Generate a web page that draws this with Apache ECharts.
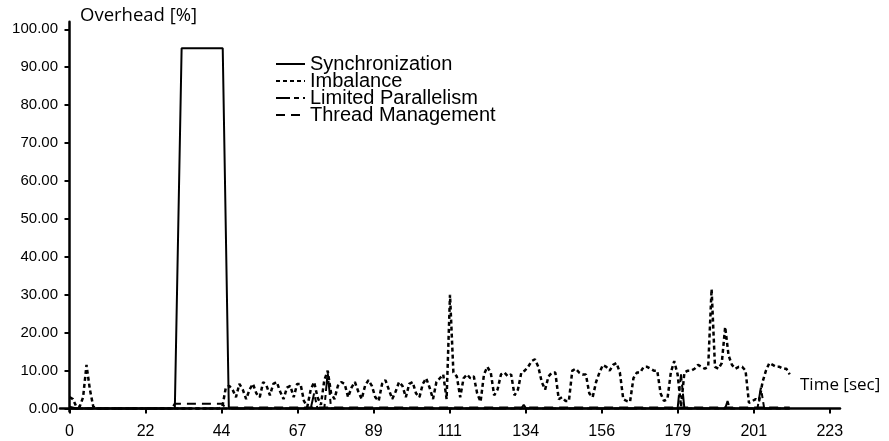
<!DOCTYPE html>
<html>
<head>
<meta charset="utf-8">
<script src="https://cdn.jsdelivr.net/npm/echarts@6/dist/echarts.min.js"></script>
<style>
  html, body { margin: 0; padding: 0; background: #fff; }
  #chart { width: 889px; height: 441px; }
</style>
</head>
<body>
<div id="chart"></div>
<script>
// x ticks sit every 22.38 s, labels are truncated
const xTicks = [0, 22.38, 44.76, 67.14, 89.52, 111.9, 134.28, 156.66, 179.04, 201.42, 223.8];
const yTicks = [0, 10, 20, 30, 40, 50, 60, 70, 80, 90, 100];

// Synchronization
const syncTime = [0, 31, 33, 45.1, 46.9, 212];
const syncValues = [0, 0, 95, 95, 0, 0];

// Imbalance, one sample per second from t = 0
const imbValues = [
  3, 2.5, 0.5, 0.5, 3, 11.5, 5, 0.5, 0,
  0, 0, 0, 0, 0, 0, 0, 0, 0, 0, 0, 0, 0, 0, 0, 0, 0, 0,
  0, 0, 0, 0, 0, 0, 0, 0, 0, 0, 0, 0, 0, 0, 0, 0, 0, 0,
  0.5,
  5.5, 6, 5, 3, 6.5, 5, 2.5, 5, 6.5, 4, 3, 7, 6, 3.5, 6.5, 7, 4.5, 2.5, 5.5, 6,
  3, 6.5, 6.5, 2, 0.5, 5, 7, 3, 1, 7.5, 10, 4, 2.5, 6, 7, 6.5, 3, 5.5, 7, 4.5,
  2.5, 6, 7.5, 6, 3, 2, 6.5, 7.5, 5, 2.5, 4.5, 7, 6, 3, 6.5, 7, 4, 3, 6.5, 8,
  5.5, 2.5, 7, 8, 9, 2.5, 30, 9.5, 8.5, 3, 8, 9, 8, 8.5, 4, 1.8, 9, 11, 9.5, 3.5,
  5, 9, 9.5, 8.5, 9, 3.5, 5, 9.5, 10, 11, 12.5, 13, 11, 7, 5, 8.5, 9.5, 9.5, 2.5, 3,
  2, 2, 10, 10.5, 9.5, 9, 9, 4, 3, 7, 9.5, 11.5, 11, 10, 11.5, 12, 9.5, 2.5, 2, 1.8,
  8, 9.5, 9.5, 11, 11, 10.5, 10, 10, 4, 2, 2.5, 9.5, 12.5, 9, 0.5, 9.5, 10, 10, 10.5, 11.5,
  11, 10.5, 11, 31.5, 11, 10.5, 12, 21.5, 14, 11.5, 10.5, 11, 11, 10, 1.5, 2, 2.5, 2, 7, 10,
  12, 11.5, 11, 11, 10.5, 10.5, 9
];

// Limited Parallelism
const lpTime = [0, 2, 71, 72, 73, 75, 76, 77, 133, 133.7, 134.4, 179, 180, 181, 193, 193.7, 194.4, 202.5, 203.5, 204.5, 212];
const lpValues = [0.5, 0, 0, 4, 0, 0, 9.5, 0, 0, 1, 0, 0, 9, 0, 0, 2, 0, 0, 5.5, 0, 0];

// Thread Management
const tmTime = [0, 30, 31, 45, 46, 47, 212];
const tmValues = [0, 0, 1.3, 1.3, 0, 0.3, 0.3];

const zip = (ts, vs) => ts.map((t, i) => [t, vs[i]]);
const imbData = imbValues.map((v, i) => [i, v]);

const chart = echarts.init(document.getElementById('chart'));
const axisFont = 'Liberation Sans, Arial, sans-serif';
const titleFont = 'Open Sans, Noto Sans, sans-serif';

chart.setOption({
  animation: false,
  backgroundColor: '#fff',
  title: [
    { text: 'Overhead [%]', left: 75, top: 1,
      textStyle: { fontFamily: titleFont, fontSize: 18.5, fontWeight: 'normal', color: '#000' } },
    { text: 'Time [sec]', left: 795, top: 372,
      textStyle: { fontFamily: titleFont, fontSize: 17, fontWeight: 'normal', color: '#000' } }
  ],
  legend: {
    orient: 'vertical',
    left: 270,
    top: 49,
    itemWidth: 29,
    itemHeight: 10,
    itemGap: -3,
    itemStyle: { opacity: 0 },
    textStyle: { fontFamily: axisFont, fontSize: 20, color: '#000', lineHeight: 17 },
    data: ['Synchronization', 'Imbalance', 'Limited Parallelism', 'Thread Management']
  },
  grid: { left: 60, right: 49, top: 21.7, bottom: 29.4 },
  xAxis: {
    type: 'value',
    min: -2.8,
    max: 226.8,
    splitLine: { show: false },
    axisLine: { onZero: true, lineStyle: { color: '#000', width: 2.5 } },
    axisTick: { show: true, customValues: xTicks, length: 5, lineStyle: { color: '#000', width: 2 } },
    axisLabel: {
      customValues: xTicks,
      formatter: v => String(Math.floor(v + 1e-6)),
      color: '#000', fontFamily: axisFont, fontSize: 16, margin: 12
    }
  },
  yAxis: {
    type: 'value',
    min: -0.8,
    max: 102,
    splitLine: { show: false },
    axisLine: { onZero: true, lineStyle: { color: '#000', width: 2.5 } },
    axisTick: { show: true, customValues: yTicks, length: 5, lineStyle: { color: '#000', width: 2 } },
    axisLabel: {
      customValues: yTicks,
      formatter: v => v.toFixed(2),
      color: '#000', fontFamily: axisFont, fontSize: 15, margin: 2,
      padding: [0, 0, 14, 0]
    }
  },
  series: [
    { name: 'Synchronization', type: 'line', symbol: 'none', z: 3,
      data: zip(syncTime, syncValues),
      lineStyle: { color: '#000', width: 2, type: 'solid' } },
    { name: 'Imbalance', type: 'line', symbol: 'none', z: 4,
      data: imbData,
      lineStyle: { color: '#000', width: 2.5, type: [4, 3] } },
    { name: 'Limited Parallelism', type: 'line', symbol: 'none', z: 3,
      data: zip(lpTime, lpValues),
      lineStyle: { color: '#000', width: 2, type: [14, 4, 5, 4] } },
    { name: 'Thread Management', type: 'line', symbol: 'none', z: 3,
      data: zip(tmTime, tmValues),
      lineStyle: { color: '#000', width: 2, type: [9, 6] } }
  ],
  color: ['#000', '#000', '#000', '#000']
});
</script>
</body>
</html>
